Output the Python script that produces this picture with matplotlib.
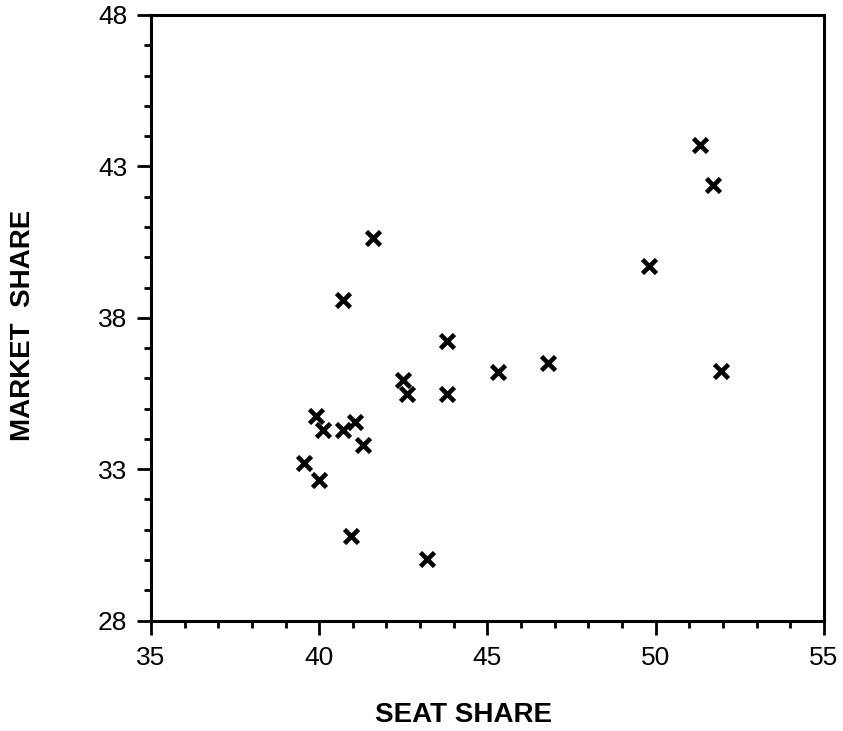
import matplotlib.pyplot as plt
from matplotlib.ticker import MultipleLocator

plt.rcParams['font.family'] = ['Liberation Sans', 'DejaVu Sans']

# seat share vs market share
seat_share = [51.3, 51.7, 49.8, 51.95, 46.8, 45.3, 43.8, 43.8, 42.5, 42.6,
              41.6, 40.7, 39.9, 40.1, 40.7, 41.05, 41.3, 39.55, 40.0, 40.95, 43.2]
market_share = [43.7, 42.4, 39.7, 36.25, 36.5, 36.2, 37.25, 35.5, 35.95, 35.5,
                40.65, 38.6, 34.75, 34.3, 34.3, 34.55, 33.8, 33.2, 32.65, 30.8, 30.05]

x_ticks = [35, 40, 45, 50, 55]
y_ticks = [28, 33, 38, 43, 48]

fig = plt.figure(figsize=(8.43, 7.31), dpi=100)
ax = fig.add_axes([0.179, 0.151, 0.7985, 0.8285])

ax.plot(seat_share, market_share, 'x', color='black', markersize=10, markeredgewidth=3.3)

ax.set_xlim(35, 55)
ax.set_ylim(28, 48)
ax.set_xticks(x_ticks)
ax.set_yticks(y_ticks)
ax.xaxis.set_minor_locator(MultipleLocator(1))
ax.yaxis.set_minor_locator(MultipleLocator(1))

ax.tick_params(which='major', length=10, width=2, labelsize=19, direction='out')
ax.tick_params(which='minor', length=5, width=2, direction='out')
ax.tick_params(axis='x', pad=8)
ax.tick_params(axis='y', pad=7)
for s in ax.spines.values():
    s.set_linewidth(2.2)

ax.set_xlabel('SEAT SHARE', fontsize=20, fontweight='bold')
ax.xaxis.set_label_coords(0.465, -0.135)
ax.set_ylabel('MARKET  SHARE', fontsize=20, fontweight='bold')
ax.yaxis.set_label_coords(-0.17, 0.488)

fig.savefig('out.png', dpi=100)
